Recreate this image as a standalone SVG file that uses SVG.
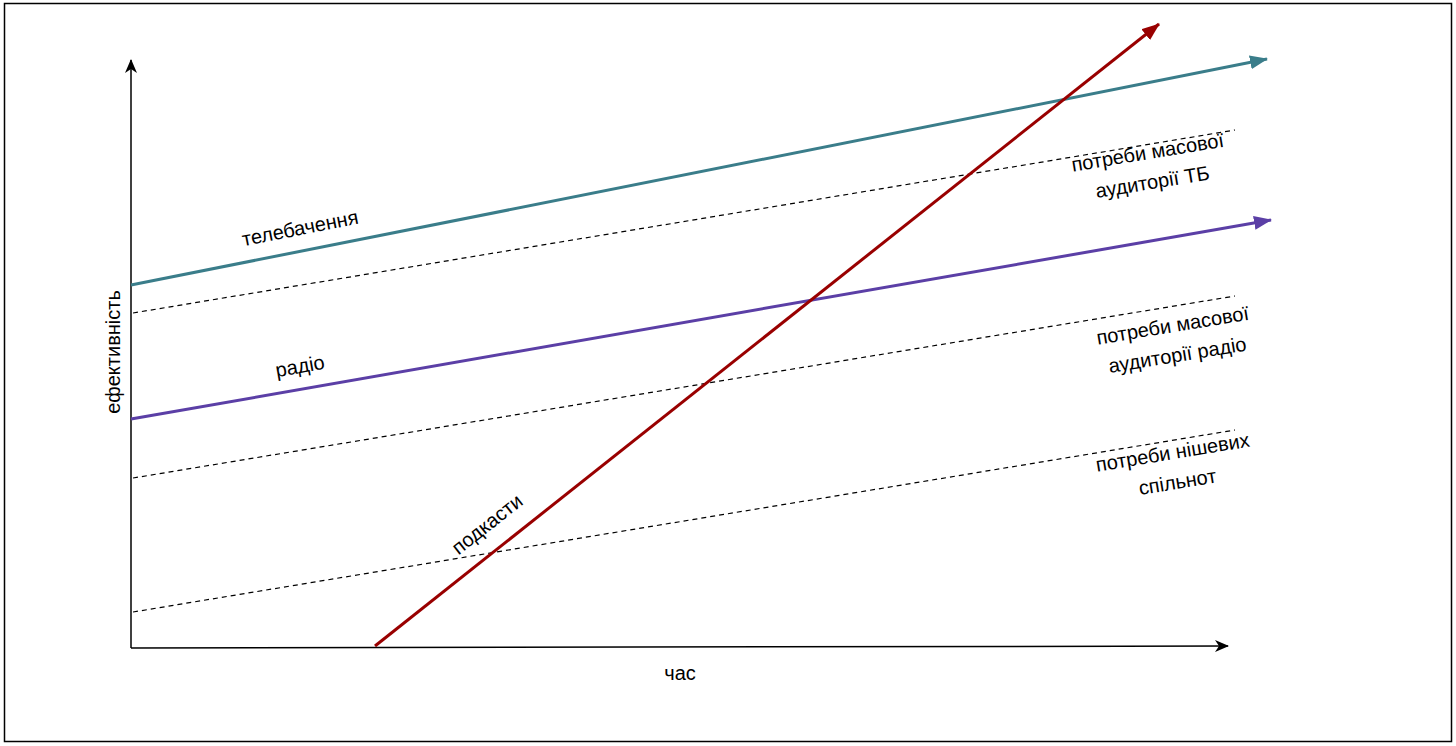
<svg xmlns="http://www.w3.org/2000/svg" width="1456" height="746" viewBox="0 0 1456 746">
<style>
text{font-family:"Liberation Sans",Arial,sans-serif;font-size:20px;fill:#000}
.axis{stroke:#000;stroke-width:1.5;fill:none}
.dash{stroke:#000;stroke-width:1.2;stroke-dasharray:5 4;fill:none}
.tv{stroke:#3a7d8a;stroke-width:3;fill:none}
.radio{stroke:#5b3fa6;stroke-width:3;fill:none}
.pod{stroke:#990000;stroke-width:3;fill:none}
</style>
<defs>
<marker id="ax" viewBox="0 0 14 12" refX="13" refY="6" markerWidth="14" markerHeight="12" markerUnits="userSpaceOnUse" orient="auto">
<path d="M0,0 L14,6 L0,12 L4,6 Z" fill="#000"/>
</marker>
<marker id="mTv" viewBox="0 0 18 14" refX="17" refY="7" markerWidth="18" markerHeight="14" markerUnits="userSpaceOnUse" orient="auto">
<path d="M0,0 L18,7 L0,14 Z" fill="#3a7d8a"/>
</marker>
<marker id="mRadio" viewBox="0 0 18 14" refX="17" refY="7" markerWidth="18" markerHeight="14" markerUnits="userSpaceOnUse" orient="auto">
<path d="M0,0 L18,7 L0,14 Z" fill="#5b3fa6"/>
</marker>
<marker id="mPod" viewBox="0 0 18 14" refX="17" refY="7" markerWidth="18" markerHeight="14" markerUnits="userSpaceOnUse" orient="auto">
<path d="M0,0 L18,7 L0,14 Z" fill="#990000"/>
</marker>
</defs>
<rect x="4.5" y="3.5" width="1447" height="738" fill="#fff" stroke="#000" stroke-width="1.5"/>
<g id="connectors">
<line class="axis" x1="131" y1="648" x2="131" y2="60" marker-end="url(#ax)"/>
<line class="axis" x1="131" y1="648" x2="1228" y2="646" marker-end="url(#ax)"/>
<line class="dash" x1="133" y1="313" x2="1235" y2="130"/>
<line class="dash" x1="133" y1="478" x2="1235" y2="296"/>
<line class="dash" x1="133" y1="612" x2="1235" y2="430"/>
<line class="tv" x1="131" y1="285" x2="1267" y2="59" marker-end="url(#mTv)"/>
<line class="radio" x1="131" y1="419" x2="1271" y2="220" marker-end="url(#mRadio)"/>
<line class="pod" x1="375" y1="646" x2="1159" y2="24" marker-end="url(#mPod)"/>
</g>
<g id="label-tv"><text x="300" y="235" text-anchor="middle" transform="rotate(-11.2 300 228)">телебачення</text></g>
<g id="label-radio"><text x="300" y="373" text-anchor="middle" transform="rotate(-9.9 300 366)">радіо</text></g>
<g id="label-pod"><text x="487" y="531" text-anchor="middle" transform="rotate(-38.4 487 524)">подкасти</text></g>
<g id="label-need-tv" transform="rotate(-9.4 1150 167)"><text x="1150" y="159" text-anchor="middle">потреби масової</text><text x="1150" y="189" text-anchor="middle">аудиторії ТБ</text></g>
<g id="label-need-radio" transform="rotate(-9.4 1175 340)"><text x="1175" y="332" text-anchor="middle">потреби масової</text><text x="1175" y="362" text-anchor="middle">аудиторії радіо</text></g>
<g id="label-need-niche" transform="rotate(-9.4 1175 467)"><text x="1175" y="459" text-anchor="middle">потреби нішевих</text><text x="1175" y="489" text-anchor="middle">спільнот</text></g>
<g id="label-y"><text x="113" y="359" text-anchor="middle" transform="rotate(-90 113 352)">ефективність</text></g>
<g id="label-x"><text x="680" y="680" text-anchor="middle">час</text></g>
</svg>
